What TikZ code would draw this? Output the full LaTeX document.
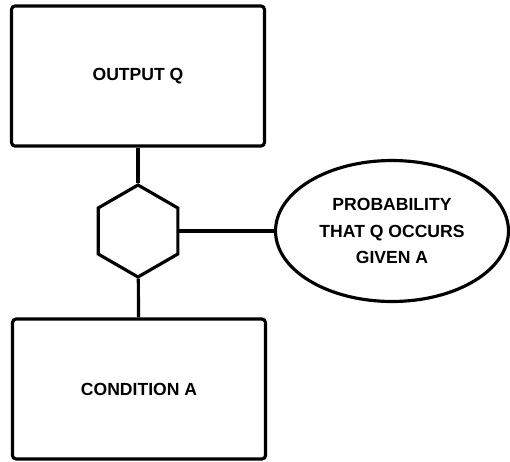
\documentclass[tikz,border=0pt]{standalone}
\usepackage{fontspec}
\setmainfont{Liberation Sans}
\usepackage{xcolor}
\usepackage{tikz}
\usetikzlibrary{shapes.geometric}
\definecolor{ink}{HTML}{000000}

\begin{document}
\begin{tikzpicture}[x=0.02cm,y=0.02cm,every node/.style={font=\bfseries\fontsize{10}{15}\selectfont,text=ink,align=center},
  bx/.style={draw=ink,line width=1.8pt,rounded corners=2pt,minimum width=5.06cm,minimum height=2.8cm},
  hx/.style={draw=ink,line width=1.8pt,regular polygon,regular polygon sides=6,shape border rotate=90,minimum size=1.84cm,inner sep=0pt},
  el/.style={draw=ink,line width=1.8pt,ellipse,minimum width=4.66cm,minimum height=2.82cm,inner sep=0pt},
  e/.style={draw=ink,line width=1.8pt}]
  \useasboundingbox (0,0) rectangle (510,461);
  \node[bx] (out) at (138,385) {OUTPUT Q};
  \node[hx] (g) at (138,230) {};
  \node[el] (p) at (392,230) {PROBABILITY\\THAT Q OCCURS\\GIVEN A};
  \node[bx] (cnd) at (139,72) {CONDITION A};
  \draw[e] (out)--(g); \draw[e] (g)--(cnd);
  \draw[e] (g.east)--(p.west);
\end{tikzpicture}
\end{document}
